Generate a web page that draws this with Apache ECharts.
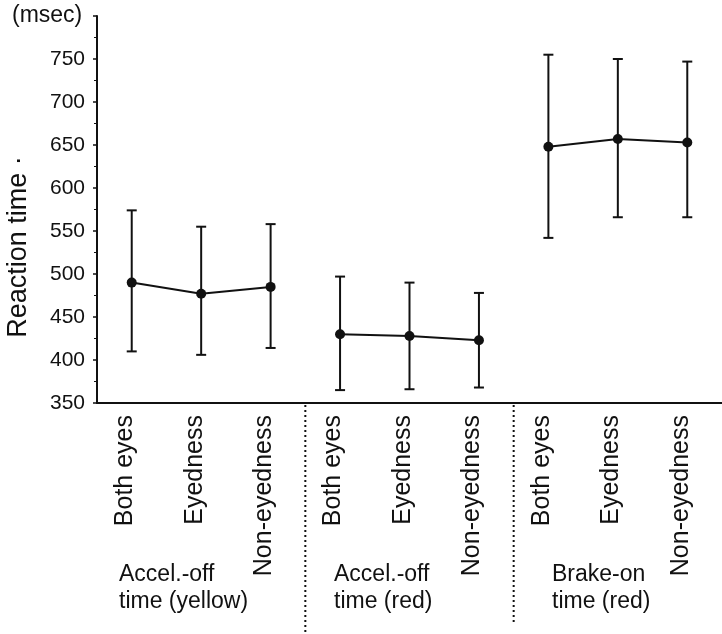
<!DOCTYPE html>
<html>
<head>
<meta charset="utf-8">
<script src="https://cdn.jsdelivr.net/npm/echarts@6/dist/echarts.min.js"></script>
<style>
  html, body { margin: 0; padding: 0; background: #fff; }
  #chart { width: 722px; height: 634px; }
</style>
</head>
<body>
<div id="chart"></div>
<script>
// conditions along the x axis (three per group)
const categories = [
  'Both eyes', 'Eyedness', 'Non-eyedness',
  'Both eyes', 'Eyedness', 'Non-eyedness',
  'Both eyes', 'Eyedness', 'Non-eyedness'
];
const groupNames = ['Accel.-off\ntime (yellow)', 'Accel.-off\ntime (red)', 'Brake-on\ntime (red)'];

// reaction time (msec): mean and the ends of the error bars
const meanAccelYellow = [490, 477, 485];
const upperAccelYellow = [574, 555, 558];
const lowerAccelYellow = [410, 406, 414];

const meanAccelRed = [430, 428, 423];
const upperAccelRed = [497, 490, 478];
const lowerAccelRed = [365, 366, 368];

const meanBrakeRed = [648, 657, 653];
const upperBrakeRed = [755, 750, 747];
const lowerBrakeRed = [542, 566, 566];

// dotted group separators: category index they sit before, share of the label area they span
const separatorIndex = [3, 6];
const separatorLength = [1, 0.96];

const yMin = 350;
const yMax = 800;
const yStep = 50;

const font = "'Liberation Sans', Arial, sans-serif";
const ink = '#111';

const groups = [
  { mean: meanAccelYellow, upper: upperAccelYellow, lower: lowerAccelYellow },
  { mean: meanAccelRed, upper: upperAccelRed, lower: lowerAccelRed },
  { mean: meanBrakeRed, upper: upperBrakeRed, lower: lowerBrakeRed }
];

const renderErrorBar = (params, api) => {
  const x = api.value(0);
  const lo = api.coord([x, api.value(1)]);
  const hi = api.coord([x, api.value(2)]);
  const w = 5;
  const style = { stroke: ink, lineWidth: 2 };
  return {
    type: 'group',
    children: [
      { type: 'line', shape: { x1: lo[0], y1: lo[1], x2: hi[0], y2: hi[1] }, style },
      { type: 'line', shape: { x1: hi[0] - w, y1: hi[1], x2: hi[0] + w, y2: hi[1] }, style },
      { type: 'line', shape: { x1: lo[0] - w, y1: lo[1], x2: lo[0] + w, y2: lo[1] }, style }
    ]
  };
};

const renderSeparator = (params, api) => {
  const idx = api.value(0);
  const half = api.size([1, 0])[0] / 2;
  const top = api.coord([idx, 1]);
  const end = api.coord([idx, 1 - api.value(1)]);
  const x = top[0] - half;
  return {
    type: 'line',
    shape: { x1: x, y1: top[1], x2: x, y2: end[1] },
    style: { stroke: ink, lineWidth: 2, lineDash: [2, 3] }
  };
};

const series = [];
groups.forEach((g, gi) => {
  series.push({
    type: 'custom',
    renderItem: renderErrorBar,
    encode: { x: 0, y: [1, 2] },
    data: g.mean.map((v, i) => [gi * 3 + i, g.lower[i], g.upper[i]]),
    z: 2
  });
  series.push({
    type: 'line',
    data: g.mean.map((v, i) => [gi * 3 + i, v]),
    symbol: 'circle',
    symbolSize: 10,
    itemStyle: { color: ink },
    lineStyle: { color: ink, width: 2 },
    z: 3
  });
});
series.push({
  type: 'custom',
  xAxisIndex: 1,
  yAxisIndex: 1,
  renderItem: renderSeparator,
  data: separatorIndex.map((v, i) => [v, separatorLength[i]]),
  silent: true
});

const groupLabelX = [119, 334, 552];
const graphics = [
  {
    type: 'text', left: 12, top: 4,
    style: { text: '(msec)', font: '23px ' + font, fill: ink }
  },
  {
    type: 'text', x: 19, y: 247, rotation: Math.PI / 2,
    style: {
      text: 'Reaction time \u00b7', font: '27px ' + font, fill: ink,
      align: 'center', verticalAlign: 'middle',
      textAlign: 'center', textVerticalAlign: 'middle'
    }
  }
];
groupNames.forEach((name, i) => {
  graphics.push({
    type: 'text', left: groupLabelX[i], top: 561,
    style: { text: name, font: '23px ' + font, fill: ink, lineHeight: 27 }
  });
});

const chart = echarts.init(document.getElementById('chart'));
chart.setOption({
  animation: false,
  backgroundColor: '#fff',
  grid: [
    { left: 97, right: -7, top: 16, bottom: 231 },
    { left: 97, right: -7, top: 405, bottom: 0 }
  ],
  xAxis: [
    {
      type: 'category',
      gridIndex: 0,
      data: categories,
      boundaryGap: true,
      axisLine: { lineStyle: { color: ink, width: 2 } },
      axisTick: { alignWithLabel: true, length: 6, lineStyle: { color: ink, width: 2 } },
      axisLabel: {
        rotate: 90, margin: 12, interval: 0,
        fontSize: 25, fontFamily: font, color: ink,
        verticalAlign: 'bottom', lineHeight: 13
      },
      splitLine: { show: false }
    },
    {
      type: 'category',
      gridIndex: 1,
      data: categories,
      boundaryGap: true,
      show: false
    }
  ],
  yAxis: [
    {
      type: 'value',
      gridIndex: 0,
      min: yMin, max: yMax, interval: yStep,
      axisLine: { show: true, lineStyle: { color: ink, width: 2 } },
      axisTick: { show: true, length: 4, lineStyle: { color: ink, width: 1.5 } },
      minorTick: { show: true, splitNumber: 2, length: 3, lineStyle: { color: ink, width: 1 } },
      axisLabel: {
        showMaxLabel: false, margin: 12,
        fontSize: 21, fontFamily: "'Liberation Sans Narrow', " + font, color: ink
      },
      splitLine: { show: false }
    },
    {
      type: 'value',
      gridIndex: 1,
      min: 0, max: 1,
      show: false
    }
  ],
  graphic: graphics,
  series: series
});
</script>
</body>
</html>
